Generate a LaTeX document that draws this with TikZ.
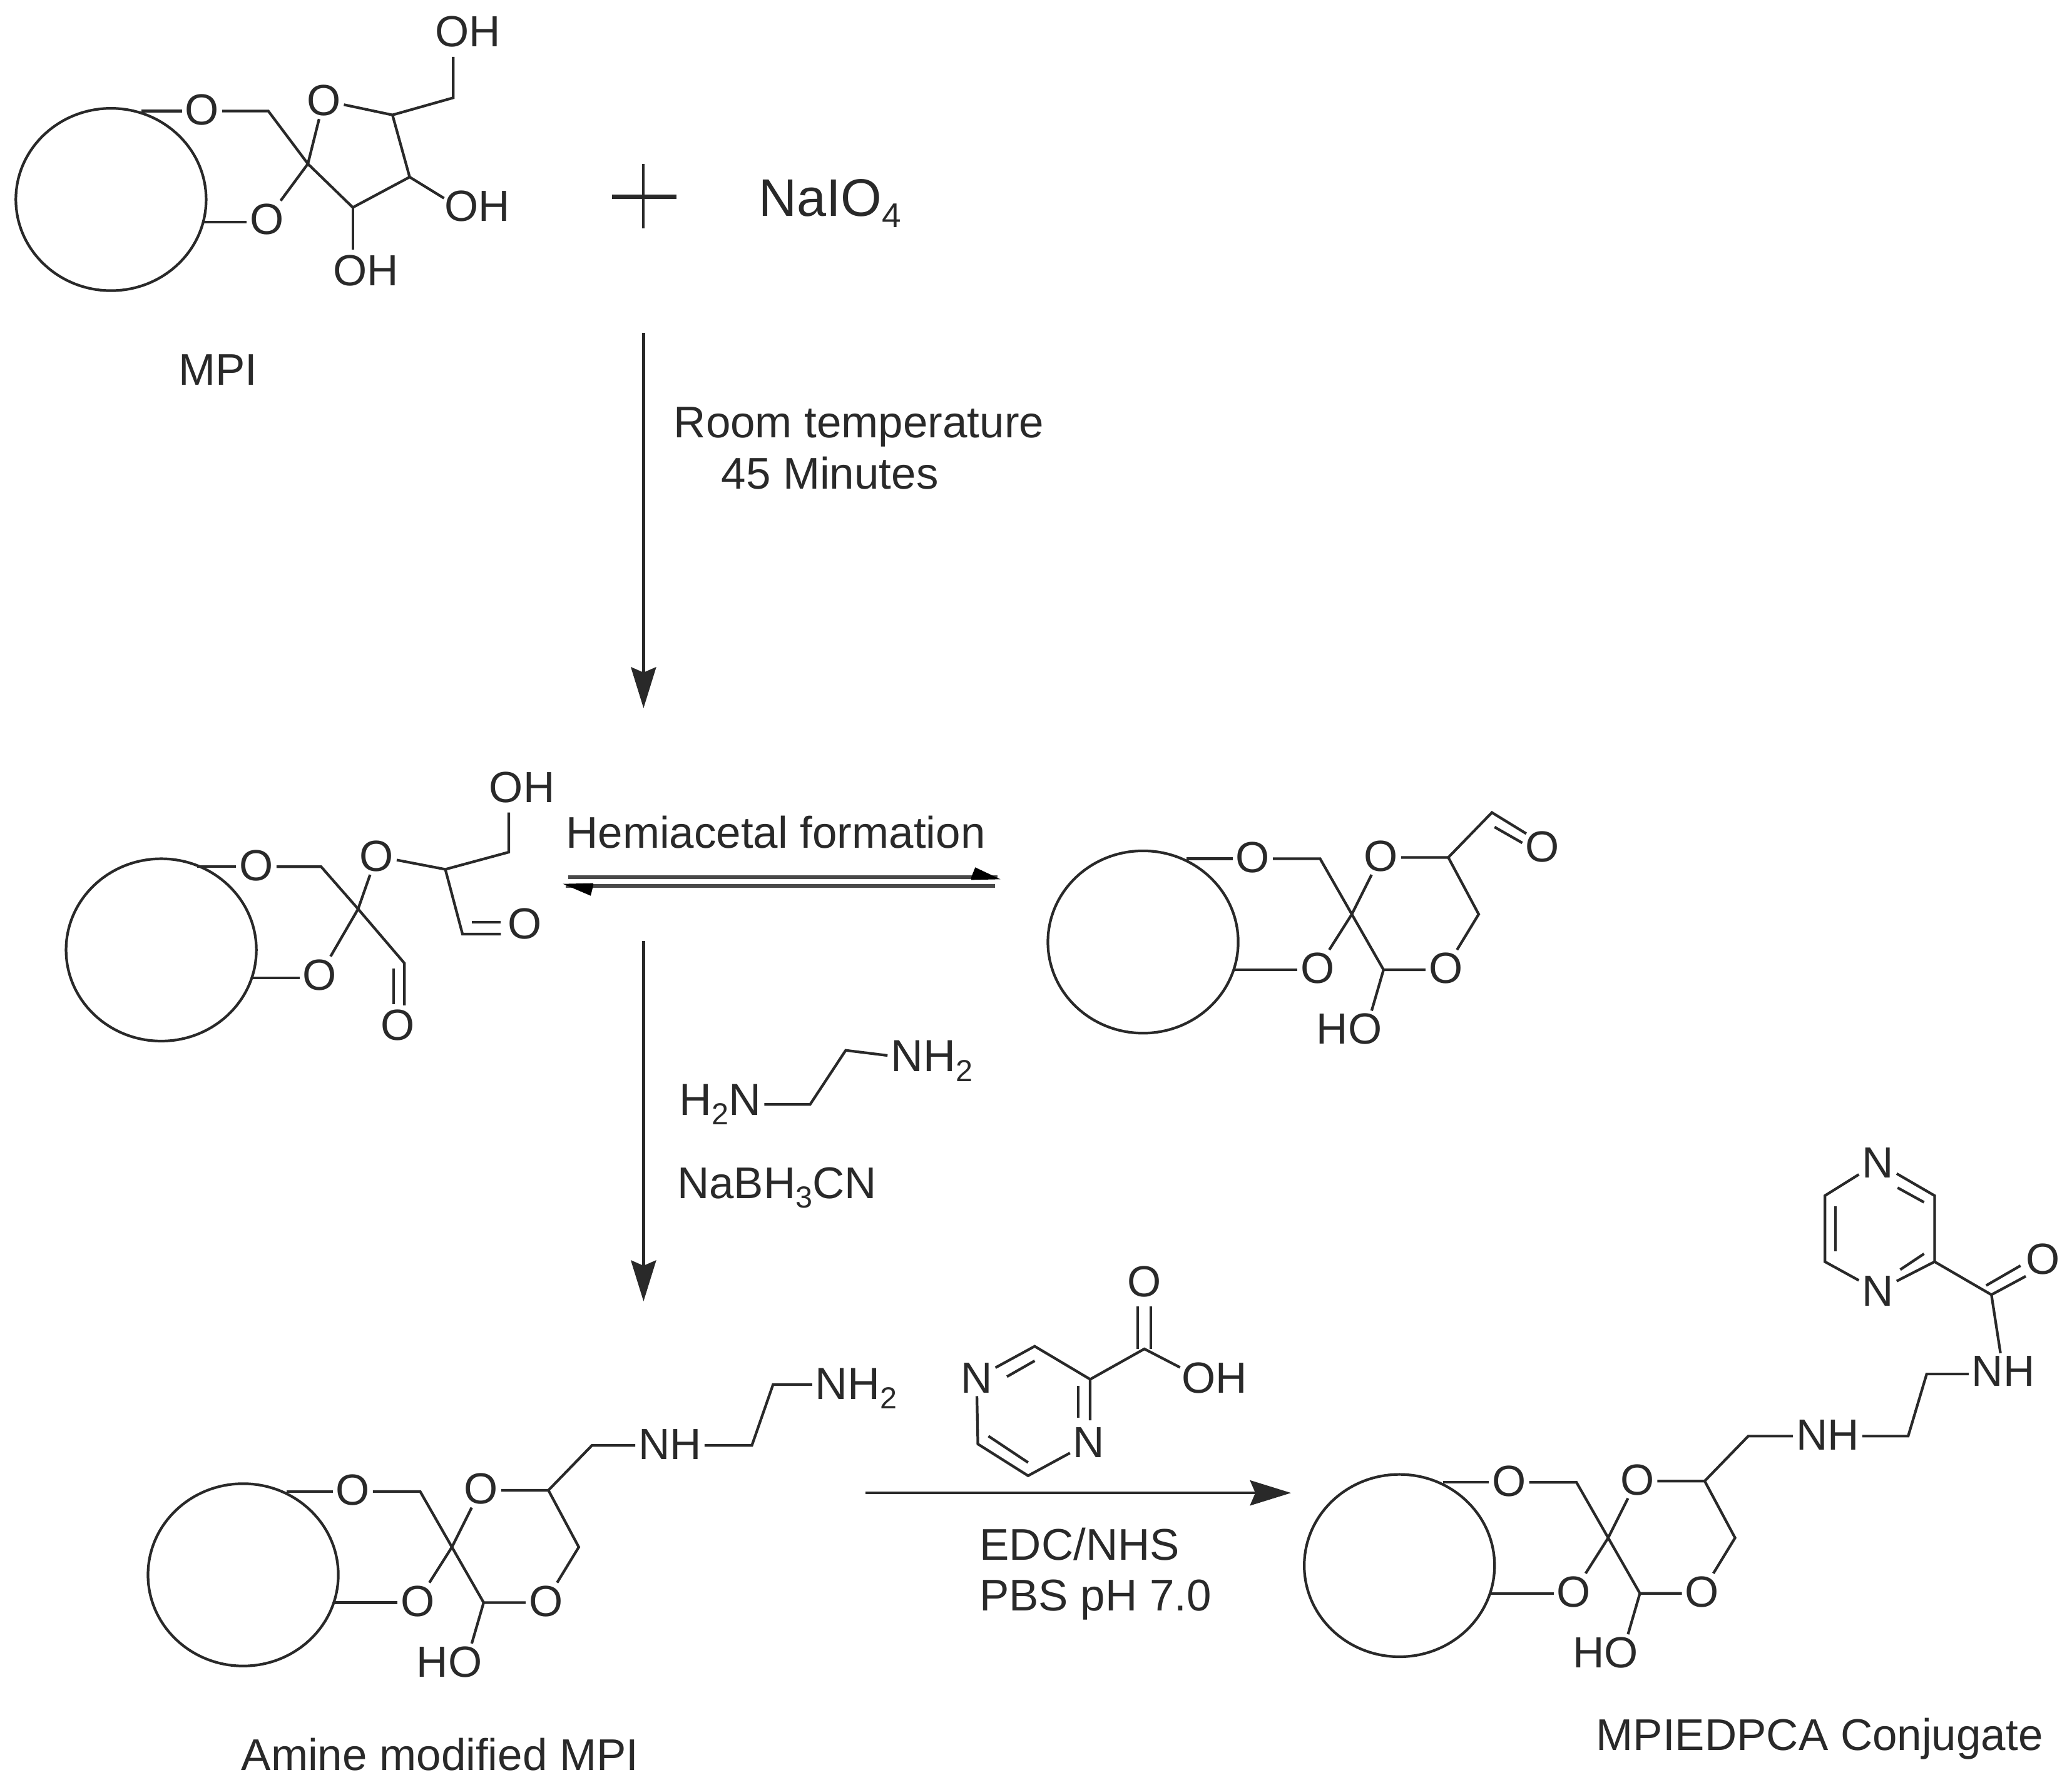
\documentclass[tikz,border=0pt]{standalone}
\usepackage{fontspec}
\setmainfont{Liberation Sans}
\usetikzlibrary{shapes.geometric,arrows.meta}
\definecolor{ink}{gray}{0.16}
\newcommand{\subsc}[2]{\raisebox{-0.22em}{\fontsize{#1}{#1}\selectfont #2}}
\tikzset{
  x=0.5pt,y=-0.5pt,
  bond/.style={draw=ink,line width=1pt},
  ringc/.style={ellipse,draw=ink,line width=1pt,minimum width=72pt,minimum height=69pt,inner sep=0pt},
  atom/.style={text=ink,font=\fontsize{16.5}{16.5}\selectfont,inner sep=1pt},
  lab/.style={text=ink,font=\fontsize{16.8}{16.8}\selectfont,inner sep=0pt},
  rxn/.style={draw=ink,line width=1.05pt,-{Stealth[length=15.5pt,width=9.5pt,inset=2pt]}},
  eqline/.style={draw=ink!85,line width=1.3pt},
}
% Spiro core shared by three structures, written in the frame of the lower right one
\newcommand{\spirocore}[3]{%
\begin{scope}[shift={(#2,#3)},name prefix=#1-]
  \node[ringc] (ring) at (1059,1185) {};
  \node[atom] (o1) at (1142,1121) {O};
  \node[atom] (o2) at (1239,1120) {O};
  \node[atom] (o3) at (1191,1205) {O};
  \node[atom] (o4) at (1288,1205) {O};
  \node[atom] (ho) at (1215,1251) {HO};
  \coordinate (r1) at (1092,1122);
  \coordinate (r2) at (1128,1206);
  \coordinate (hoe) at (1232,1237);
  \coordinate (ca) at (1193,1122);
  \coordinate (sp) at (1217,1164);
  \coordinate (cb) at (1241,1206);
  \coordinate (cc) at (1290,1121);
  \coordinate (cd) at (1313,1164);
  \draw[bond] (r1) -- (r1 -| o1.west);
  \draw[bond] (r2) -- (r2 -| o3.west);
  \draw[bond] (o1.east |- ca) -- (ca) -- (sp) -- (cb) -- (cb -| o4.west);
  \draw[bond] (o2.east |- cc) -- (cc) -- (cd) -- (o4);
  \draw[bond] (o2) -- (sp) -- (o3);
  \draw[bond] (cb) -- (hoe);
\end{scope}}
\begin{document}
\begin{tikzpicture}
\useasboundingbox (0,0) rectangle (1568,1351);
% --- MPI
\node[ringc] (m-ring) at (84,151) {};
\node[atom] (m-o1) at (153,83) {O};
\node[atom] (m-o2) at (245,76) {O};
\node[atom] (m-o3) at (202,166) {O};
\node[atom] (m-oh1) at (354,24) {OH};
\node[atom] (m-oh2) at (361,156) {OH};
\node[atom] (m-oh3) at (277,205) {OH};
\coordinate (m-r1) at (107,84);
\coordinate (m-r2) at (154,168);
\coordinate (m-ca) at (203,84);
\coordinate (m-sp) at (233,124);
\coordinate (m-cb) at (297,87);
\coordinate (m-cc) at (343,74);
\coordinate (m-cd) at (310,134);
\coordinate (m-ce) at (267,157);
\coordinate (m-e1) at (343,43);
\coordinate (m-e2) at (336,150);
\coordinate (m-e3) at (267,189);
\draw[bond] (m-r1) -- (m-r1 -| m-o1.west);
\draw[bond] (m-r2) -- (m-r2 -| m-o3.west);
\draw[bond] (m-o1.east |- m-ca) -- (m-ca) -- (m-sp) -- (m-o2);
\draw[bond] (m-o3) -- (m-sp) -- (m-ce) -- (m-cd) -- (m-cb) -- (m-o2);
\draw[bond] (m-cb) -- (m-cc) -- (m-e1);
\draw[bond] (m-cd) -- (m-e2);
\draw[bond] (m-ce) -- (m-e3);
\coordinate (plt) at (487,124);
\coordinate (plb) at (487,173);
\coordinate (pll) at (463,149);
\coordinate (plr) at (512,149);
\draw[bond] (plt) -- (plb);
\draw[bond,line width=1.5pt] (pll) -- (plr);
\node[text=ink,font=\fontsize{20}{20}\selectfont,inner sep=0pt] (naio) at (628,154) {NaIO\subsc{13}{4}};
\node[lab] (mpi) at (165,280) {MPI};
\coordinate (a1s) at (487,252);
\coordinate (a1e) at (487,536);
\draw[rxn] (a1s) -- (a1e);
\node[lab] (rt) at (650,323) {Room temperature};
\node[lab] (min) at (628,358) {45 Minutes};
% --- Dialdehyde
\node[ringc] (d-ring) at (122,719) {};
\node[atom] (d-o1) at (194,655) {O};
\node[atom] (d-o2) at (285,648) {O};
\node[atom] (d-o3) at (242,738) {O};
\node[atom] (d-o4) at (397,699) {O};
\node[atom] (d-o5) at (301,776) {O};
\node[atom] (d-oh) at (395,596) {OH};
\coordinate (d-r1) at (149,656);
\coordinate (d-r2) at (191,740);
\coordinate (d-ca) at (243,656);
\coordinate (d-sp) at (271,688);
\coordinate (d-cb) at (306,729);
\coordinate (d-cc) at (337,658);
\coordinate (d-cd) at (385,645);
\coordinate (d-ce) at (350,707);
\coordinate (d-e1) at (385,615);
\coordinate (d-f1) at (379,707);
\coordinate (d-f2) at (357,698);
\coordinate (d-f3) at (379,698);
\coordinate (d-g1) at (306,761);
\coordinate (d-g2) at (298,733);
\coordinate (d-g3) at (298,760);
\draw[bond] (d-r1) -- (d-r1 -| d-o1.west);
\draw[bond] (d-r2) -- (d-r2 -| d-o3.west);
\draw[bond] (d-o1.east |- d-ca) -- (d-ca) -- (d-sp) -- (d-cb) -- (d-g1);
\draw[bond] (d-g2) -- (d-g3);
\draw[bond] (d-o3) -- (d-sp) -- (d-o2) -- (d-cc) -- (d-cd) -- (d-e1);
\draw[bond] (d-cc) -- (d-ce) -- (d-f1);
\draw[bond] (d-f2) -- (d-f3);
% --- Equilibrium
\node[lab] (hemi) at (587,630) {Hemiacetal formation};
\coordinate (eq1s) at (430,664);
\coordinate (eq1e) at (755,664);
\coordinate (eq1t) at (757,665.5);
\coordinate (eq1h) at (738,656.5);
\coordinate (eq1n) at (735,664);
\coordinate (eq1m) at (735,666);
\coordinate (eq2s) at (753,670.5);
\coordinate (eq2e) at (428,670.5);
\coordinate (eq2t) at (426,669);
\coordinate (eq2h) at (447,678);
\coordinate (eq2n) at (449,670);
\coordinate (eq2m) at (449,668.5);
\draw[eqline] (eq1s) -- (eq1e);
\draw[eqline] (eq2s) -- (eq2e);
\fill[black] (eq1t) -- (eq1h) -- (eq1n) -- (eq1m) -- cycle;
\fill[black] (eq2t) -- (eq2h) -- (eq2n) -- (eq2m) -- cycle;
% --- Hemiacetal
\spirocore{h}{-194}{-472}
\coordinate (h-cho) at (1129,615);
\coordinate (h-chx) at (1155,631);
\coordinate (h-chi) at (1131,626);
\coordinate (h-che) at (1152,638);
\node[atom] (h-o5) at (1167,641) {O};
\draw[bond] (h-cc) -- (h-cho) -- (h-chx);
\draw[bond] (h-chi) -- (h-che);
% --- Reagents
\coordinate (a2s) at (487,712);
\coordinate (a2e) at (487,985);
\draw[rxn] (a2s) -- (a2e);
\node[atom,font=\fontsize{17}{17}\selectfont] (en1) at (545,836) {H\subsc{11.5}{2}N};
\node[atom,font=\fontsize{17}{17}\selectfont] (en2) at (705,803) {NH\subsc{11.5}{2}};
\coordinate (en-a) at (613,836);
\coordinate (en-b) at (640,795);
\draw[bond] (en1) -- (en-a) -- (en-b) -- (en2);
\node[lab] (nab) at (588,899) {NaBH\subsc{11.5}{3}CN};
% --- Amine modified MPI
\spirocore{a}{-875}{7}
\node[atom] (a-nh) at (507,1093) {NH};
\node[atom,font=\fontsize{17}{17}\selectfont] (a-nh2) at (648,1051) {NH\subsc{11.5}{2}};
\coordinate (a-c1) at (448,1094);
\coordinate (a-c2) at (569,1094);
\coordinate (a-c3) at (585,1048);
\draw[bond] (a-cc) -- (a-c1) -- (a-c1 -| a-nh.west);
\draw[bond] (a-c2 -| a-nh.east) -- (a-c2) -- (a-c3) -- (a-c3 -| a-nh2.west);
\node[lab] (amc) at (333,1328) {Amine modified MPI};
% --- Pyrazine acid and conditions
\coordinate (a3s) at (655,1130);
\coordinate (a3e) at (977,1130);
\draw[rxn] (a3s) -- (a3e);
\node[atom] (pz-n1) at (739,1043) {N};
\node[atom] (pz-n2) at (824,1092) {N};
\node[atom] (pz-o) at (866,970) {O};
\node[atom] (pz-oh) at (919,1043) {OH};
\coordinate (pz-c1) at (783,1019);
\coordinate (pz-c2) at (825,1044);
\coordinate (pz-c3) at (778,1117);
\coordinate (pz-c4) at (740,1093);
\coordinate (pz-c5) at (866,1021);
\coordinate (pz-e) at (893,1035);
\coordinate (pz-i1) at (762,1042);
\coordinate (pz-i2) at (783,1030);
\coordinate (pz-i3) at (816,1049);
\coordinate (pz-i4) at (816,1073);
\coordinate (pz-i5) at (778,1107);
\coordinate (pz-i6) at (748,1087);
\coordinate (pz-d1) at (871,989);
\coordinate (pz-d2) at (871,1021);
\coordinate (pz-d3) at (861,989);
\coordinate (pz-d4) at (861,1021);
\coordinate (pz-x) at (825,1075);
\draw[bond] (pz-n1) -- (pz-c1) -- (pz-c2) -- (pz-x);
\draw[bond] (pz-n2) -- (pz-c3) -- (pz-c4) -- (pz-n1);
\draw[bond] (pz-i1) -- (pz-i2);
\draw[bond] (pz-i3) -- (pz-i4);
\draw[bond] (pz-i5) -- (pz-i6);
\draw[bond] (pz-c2) -- (pz-c5) -- (pz-e);
\draw[bond] (pz-d1) -- (pz-d2);
\draw[bond] (pz-d3) -- (pz-d4);
\node[lab] (edc) at (817,1169) {EDC/NHS};
\node[lab] (pbs) at (829,1211) {PBS pH 7.0};
% --- Conjugate
\spirocore{c}{0}{0}
\node[atom] (c-nh) at (1383,1086) {NH};
\node[atom] (c-nh2) at (1516,1038) {NH};
\node[atom] (c-o) at (1546,953) {O};
\node[atom] (c-n1) at (1421,880) {N};
\node[atom] (c-n2) at (1421,977) {N};
\coordinate (c-c1) at (1323,1087);
\coordinate (c-c2) at (1444,1087);
\coordinate (c-c3) at (1458,1040);
\coordinate (c-c4) at (1507,980);
\coordinate (c-r1) at (1464,955);
\coordinate (c-r2) at (1464,905);
\coordinate (c-r3) at (1381,905);
\coordinate (c-r4) at (1381,955);
\coordinate (c-i1) at (1456,910);
\coordinate (c-i2) at (1436,899);
\coordinate (c-i3) at (1389,913);
\coordinate (c-i4) at (1389,947);
\coordinate (c-i5) at (1438,961);
\coordinate (c-i6) at (1456,949);
\coordinate (c-d1) at (1533,966);
\coordinate (c-d2) at (1503,973);
\coordinate (c-d3) at (1529,958);
\draw[bond] (c-cc) -- (c-c1) -- (c-c1 -| c-nh.west);
\draw[bond] (c-c2 -| c-nh.east) -- (c-c2) -- (c-c3) -- (c-c3 -| c-nh2.west);
\draw[bond] (c-nh2) -- (c-c4) -- (c-r1);
\draw[bond] (c-r1) -- (c-r2) -- (c-n1) -- (c-r3) -- (c-r4) -- (c-n2) -- (c-r1);
\draw[bond] (c-i1) -- (c-i2);
\draw[bond] (c-i3) -- (c-i4);
\draw[bond] (c-i5) -- (c-i6);
\draw[bond] (c-c4) -- (c-d1);
\draw[bond] (c-d2) -- (c-d3);
\node[lab] (cap) at (1377,1316) {MPIEDPCA Conjugate};
\end{tikzpicture}
\end{document}
